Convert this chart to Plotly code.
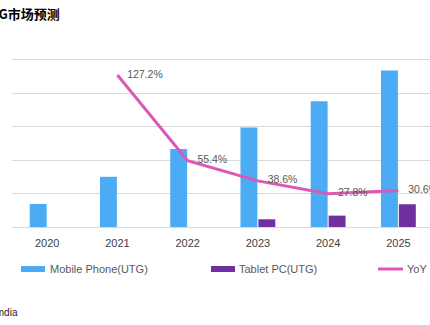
import plotly.graph_objects as go

# Chart data
years = ["2020", "2021", "2022", "2023", "2024", "2025"]
mobile_phone = [6.9, 15.0, 23.3, 29.7, 37.6, 46.8]
tablet_pc = [None, None, None, 2.3, 3.4, 6.8]
yoy_pct = [None, 127.2, 55.4, 38.6, 27.8, 30.6]

W, H = 430, 325
L, R, T, B = 12, 0, 53, 98
PW, PH = W - L - R, H - T - B
Y_MAX = 52            # headroom so the top gridline (50) is drawn
Y2_MAX = 140 * Y_MAX / 50

BLUE = "#4BABF4"
PURPLE = "#7030A0"
PINK = "#DA58B8"
GREY_TXT = "#595959"
FONT = "Liberation Sans, Arial, sans-serif"


def px_x(px):
    return (px - L) / PW


def px_y(py):
    return (H - B - py) / PH


fig = go.Figure()
fig.add_trace(go.Bar(x=years, y=mobile_phone, name="Mobile Phone(UTG)",
                     marker=dict(color=BLUE, line=dict(width=0))))
fig.add_trace(go.Bar(x=years, y=tablet_pc, name="Tablet PC(UTG)",
                     marker=dict(color=PURPLE, line=dict(width=0))))
fig.add_trace(go.Scatter(
    x=years, y=yoy_pct, name="YoY", yaxis="y2",
    mode="lines+markers+text",
    line=dict(color=PINK, width=3),
    marker=dict(size=14, color="rgba(0,0,0,0)"),
    texttemplate="%{y:.1f}%", textposition="middle right",
    textfont=dict(family=FONT, size=10.5, color=GREY_TXT),
    cliponaxis=False,
))

shapes = []
annotations = []

# Legend drawn by hand: wide swatches with labels
legend_y = 269
legend_items = [
    ("rect", BLUE, 21, 45, "Mobile Phone(UTG)", 48),
    ("rect", PURPLE, 211, 235, "Tablet PC(UTG)", 237),
    ("line", PINK, 378, 403, "YoY", 405),
]
for kind, color, x0, x1, label, tx in legend_items:
    if kind == "rect":
        shapes.append(dict(type="rect", xref="paper", yref="paper",
                           x0=px_x(x0), x1=px_x(x1),
                           y0=px_y(legend_y + 3), y1=px_y(legend_y - 3),
                           fillcolor=color, line=dict(width=0)))
    else:
        shapes.append(dict(type="line", xref="paper", yref="paper",
                           x0=px_x(x0), x1=px_x(x1),
                           y0=px_y(legend_y), y1=px_y(legend_y),
                           line=dict(color=color, width=3)))
    annotations.append(dict(text=label, xref="paper", yref="paper",
                            x=px_x(tx), y=px_y(legend_y), xanchor="left",
                            yanchor="middle", showarrow=False,
                            font=dict(family=FONT, size=11, color=GREY_TXT)))

# Title and source line
annotations.append(dict(text="<b>UTG市场预测</b>", xref="paper", yref="paper",
                        x=px_x(62), y=px_y(13), xanchor="right", yanchor="middle",
                        showarrow=False,
                        font=dict(family="Noto Sans CJK SC", size=13, color="#000000")))
annotations.append(dict(text="数据来源：Omdia", xref="paper", yref="paper",
                        x=px_x(20), y=px_y(312), xanchor="right", yanchor="middle",
                        showarrow=False,
                        font=dict(family=FONT, size=10, color="#222222")))

fig.update_layout(
    width=W, height=H,
    margin=dict(l=L, r=R, t=T, b=B, pad=0),
    paper_bgcolor="white", plot_bgcolor="white",
    barmode="group", bargap=0.49, bargroupgap=0.056,
    showlegend=False,
    shapes=shapes, annotations=annotations,
    xaxis=dict(type="category", range=[-0.5, 5.45], showgrid=False,
               showline=False, zeroline=False, ticks="",
               tickfont=dict(family=FONT, size=11, color="#404040"),
               ticklabelstandoff=8),
    yaxis=dict(range=[0, Y_MAX], tickvals=[10, 20, 30, 40, 50], showgrid=True,
               gridcolor="#D9D9D9", gridwidth=1, zeroline=True,
               zerolinecolor="#D9D9D9", zerolinewidth=1,
               showticklabels=False, ticks="", showline=False),
    yaxis2=dict(range=[0, Y2_MAX], overlaying="y", side="right", showgrid=False,
                zeroline=False, showticklabels=False, ticks="", showline=False),
)

fig.write_html("out.html")
